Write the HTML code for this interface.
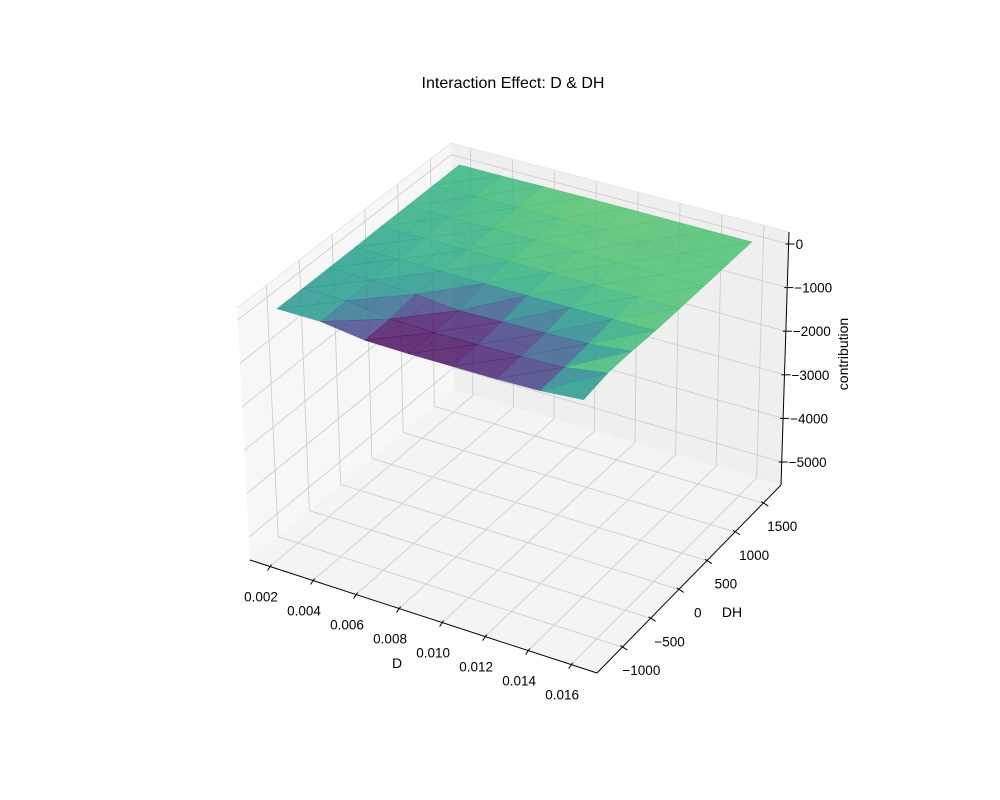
<!DOCTYPE html>
<html><head><meta charset="utf-8"><style>
body{margin:0;background:#fff;}
svg{display:block;font-family:"Liberation Sans","DejaVu Sans",sans-serif;}
</style></head><body>
<svg id="chart" width="1000" height="800" viewBox="0 0 1000 800" xmlns="http://www.w3.org/2000/svg">
<rect width="1000" height="800" fill="#fff"/>
<text x="513" y="88" text-anchor="middle" font-size="16" fill="#000">Interaction Effect: D &amp; DH</text>
<g id="panes"></g><g id="grid"></g><g id="axes"></g><g id="surface"></g><g id="labels"></g>
<text x="397" y="668" text-anchor="middle" font-size="14">D</text>
<text x="732" y="617" text-anchor="middle" font-size="14">DH</text>
<text transform="translate(848,354) rotate(-90)" text-anchor="middle" font-size="14">contribution</text>
</svg>
<script>
const dValues=[0.0015,0.0035,0.0055,0.0075,0.0095,0.0115,0.0135,0.0155];
const dhValues=[-1000,-600,-200,200,600,1000,1400,1800];
const zRow0=[-205,-200,-330,-340,-330,-320,-290,-200];
const zRow1=[-200,-195,-320,-335,-320,-300,-260,-100];
const zRow2=[-195,-190,-230,-320,-290,-260,-220,-110];
const zRow3=[-190,-185,-180,-185,-180,-175,-165,-140];
const zRow4=[-180,-175,-170,-160,-155,-155,-150,-150];
const zRow5=[-175,-170,-160,-155,-150,-150,-150,-150];
const zRow6=[-170,-165,-155,-150,-148,-148,-150,-150];
const zRow7=[-165,-160,-150,-145,-145,-145,-150,-150];
const zGrid=[zRow0,zRow1,zRow2,zRow3,zRow4,zRow5,zRow6,zRow7];
const dTicks=[0.002,0.004,0.006,0.008,0.010,0.012,0.014,0.016];
const dhTicks=[-1000,-500,0,500,1000,1500];
const zTicks=[0,-1000,-2000,-3000,-4000,-5000];

const D0=0.00107,D1=0.0172,H0=-1450,H1=1814,Z0=-5527,Z1=275;
const C={L:[250,560,252,-13],F:[597,673,258,-3],R:[781,485,253,8],B:[454,390,247,-3]};
function bil(u,v,i){return (1-u)*(1-v)*C.L[i]+u*(1-v)*C.F[i]+u*v*C.R[i]+(1-u)*v*C.B[i];}
function P(d,h,z){const u=(d-D0)/(D1-D0),v=(h-H0)/(H1-H0),f=(z-Z0)/(Z1-Z0);
 return [bil(u,v,0)+f*bil(u,v,3), bil(u,v,1)-f*bil(u,v,2)];}
const NS="http://www.w3.org/2000/svg";
function mk(tag,attrs,parent){const e=document.createElementNS(NS,tag);for(const k in attrs)e.setAttribute(k,attrs[k]);document.getElementById(parent).appendChild(e);return e;}
function pts(a){return a.map(p=>p[0].toFixed(1)+","+p[1].toFixed(1)).join(" ");}

let e;
e=mk("polygon",{points:pts([P(D0,H0,Z0),P(D0,H1,Z0),P(D0,H1,Z1),P(D0,H0,Z1)]),fill:"#f7f7f7"},"panes");

e=mk("polygon",{points:pts([P(D0,H1,Z0),P(D1,H1,Z0),P(D1,H1,Z1),P(D0,H1,Z1)]),fill:"#efefef"},"panes");

e=mk("polygon",{points:pts([P(D0,H0,Z0),P(D1,H0,Z0),P(D1,H1,Z0),P(D0,H1,Z0)]),fill:"#f4f4f4"},"panes");


function line(a,b,g,stroke,w,name){const l=mk("line",{x1:a[0],y1:a[1],x2:b[0],y2:b[1],stroke:stroke,"stroke-width":w},g);
 return l;}
dTicks.forEach(d=>{line(P(d,H0,Z0),P(d,H1,Z0),"grid","#cfcfcf",0.9,"grid-line");line(P(d,H1,Z0),P(d,H1,Z1),"grid","#cfcfcf",0.9,"grid-line");});
dhTicks.forEach(h=>{line(P(D0,h,Z0),P(D1,h,Z0),"grid","#cfcfcf",0.9,"grid-line");line(P(D0,h,Z0),P(D0,h,Z1),"grid","#cfcfcf",0.9,"grid-line");});
zTicks.forEach(z=>{line(P(D0,H0,z),P(D0,H1,z),"grid","#cfcfcf",0.9,"grid-line");line(P(D0,H1,z),P(D1,H1,z),"grid","#cfcfcf",0.9,"grid-line");});
line(P(D0,H0,Z1),P(D0,H1,Z1),"grid","#e6e6e6",1,"pane-edge");
line(P(D0,H1,Z1),P(D1,H1,Z1),"grid","#e6e6e6",1,"pane-edge");
line(P(D0,H0,Z0),P(D1,H0,Z0),"axes","#000",1,"x-axis-line");
line(P(D1,H0,Z0),P(D1,H1,Z0),"axes","#000",1,"y-axis-line");
line(P(D1,H1,Z0),P(D1,H1,Z1),"axes","#000",1,"z-axis-line");
dTicks.forEach(d=>{const p=P(d,H0,Z0);line([p[0]+1.5,p[1]-2],[p[0]-2.5,p[1]+4],"axes","#000",1,"x-tick");
 const t=mk("text",{x:p[0]-9,y:p[1]+35,"text-anchor":"middle","font-size":"13.5"},"labels");t.textContent=d.toFixed(3);
 });
dhTicks.forEach(h=>{const p=P(D1,h,Z0);line([p[0]-2,p[1]-1.5],[p[0]+5,p[1]+3],"axes","#000",1,"y-tick");
 const t=mk("text",{x:p[0]+19,y:p[1]+28,"text-anchor":"middle","font-size":"13.5"},"labels");t.textContent=(h<0?"\u2212"+(-h):String(h));
 });
zTicks.forEach(z=>{const p=P(D1,H1,z);line([p[0]-3,p[1]],[p[0]+6,p[1]],"axes","#000",1,"z-tick");
 const t=mk("text",{x:p[0]+7,y:p[1]+5,"text-anchor":"start","font-size":"13.5"},"labels");t.textContent=(z<0?"\u2212"+(-z):String(z));
 });

const stops=[[68,1,84],[72,40,120],[62,73,137],[49,104,142],[38,130,142],[31,158,137],[53,183,121],[110,206,88],[253,231,37]];
function viridis(t){t=Math.max(0,Math.min(1,t));const x=t*8,i=Math.min(7,Math.floor(x)),f=x-i;
 const c=stops[i].map((a,k)=>Math.round(a+(stops[i+1][k]-a)*f));return "rgb("+c.join(",")+")";}
let zmin=Infinity,zmax=-Infinity;zGrid.forEach(r=>r.forEach(z=>{zmin=Math.min(zmin,z);zmax=Math.max(zmax,z);}));
const tris=[];
for(let j=0;j<dhValues.length-1;j++)for(let i=0;i<dValues.length-1;i++){
 const a=[dValues[i],dhValues[j],zGrid[j][i]],b=[dValues[i+1],dhValues[j],zGrid[j][i+1]],
       c=[dValues[i+1],dhValues[j+1],zGrid[j+1][i+1]],d=[dValues[i],dhValues[j+1],zGrid[j+1][i]];
 [[a,b,c],[a,c,d]].forEach(tr=>{const zc=(tr[0][2]+tr[1][2]+tr[2][2])/3;
  const depth=tr.reduce((s,p)=>s+(p[0]-D0)/(D1-D0)-(p[1]-H0)/(H1-H0),0);tris.push({tr,zc,depth});});}
tris.sort((p,q)=>p.depth-q.depth);
tris.forEach(o=>{const col=viridis((o.zc-zmin)/(zmax-zmin));
 const pg=mk("polygon",{points:pts(o.tr.map(p=>P(p[0],p[1],p[2]))),fill:col,"fill-opacity":"0.82",stroke:col,"stroke-opacity":"0.6","stroke-width":"0.5"},"surface");
 
 });
</script>
</body></html>
